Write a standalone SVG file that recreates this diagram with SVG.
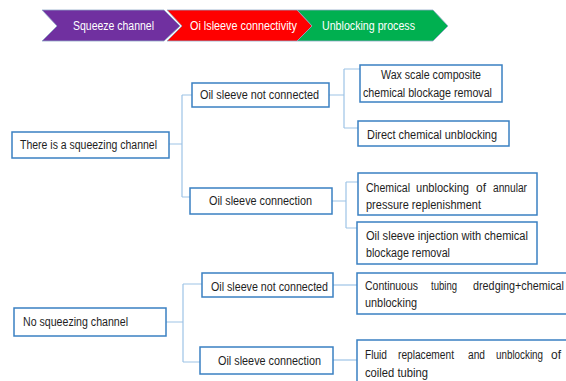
<svg xmlns="http://www.w3.org/2000/svg" width="566" height="381" viewBox="0 0 566 381">
<style>
.box{fill:#fff;stroke:#3A80C2;stroke-width:1.5}
.con{fill:none;stroke:#9DC3E6;stroke-width:1.2}
.t{font-family:"Liberation Sans",Arial,sans-serif;font-size:12px;fill:#1e1e1e}
.bt{font-family:"Liberation Sans",Arial,sans-serif;font-size:12px;fill:#fff}
.chev{stroke:#8FA8C6;stroke-width:0.8}
</style>
<rect width="566" height="381" fill="#fff"/>
<g id="banner">
  <g id="b-unblock">
    <polygon class="chev" fill="#00B050" points="297,10 433,10 448,26 433,41 297,41 312,26"/>
    <text class="bt" x="322" y="30" textLength="93" lengthAdjust="spacingAndGlyphs">Unblocking process</text>
  </g>
  <g id="b-oil">
    <polygon class="chev" fill="#FF0000" points="167,10 297,10 312,26 297,41 167,41 182,26"/>
    <text class="bt" x="190" y="30" textLength="107" lengthAdjust="spacingAndGlyphs">Oi lsleeve connectivity</text>
  </g>
  <g id="b-squeeze">
    <polygon class="chev" fill="#7030A0" points="42,10 164,10 180,26 164,41 42,41 57,26"/>
    <text class="bt" x="73" y="30" textLength="81" lengthAdjust="spacingAndGlyphs">Squeeze channel</text>
  </g>
</g>
<g id="connectors">
  <path class="con" d="M169,144 H182 M182,95 V197 M182,95 H192 M182,197 H190"/>
  <path class="con" d="M329,95 H344 M344,69 V128 M344,69 H360 M344,128 H358"/>
  <path class="con" d="M332,201 H346 M346,182 V228 M346,182 H358 M346,228 H357"/>
  <path class="con" d="M166,322 H183 M183,284 V362 M183,284 H202 M183,362 H200"/>
  <path class="con" d="M333,285 H357"/>
  <path class="con" d="M333,360 H357"/>
</g>
<g id="n-squeeze">
  <rect class="box" x="12" y="132" width="157" height="26"/>
  <text class="t" x="20" y="149" textLength="137" lengthAdjust="spacingAndGlyphs">There is a squeezing channel</text>
</g>
<g id="n-notconn1">
  <rect class="box" x="192" y="83" width="137" height="24"/>
  <text class="t" x="200" y="99" textLength="119" lengthAdjust="spacingAndGlyphs">Oil sleeve not connected</text>
</g>
<g id="n-conn1">
  <rect class="box" x="190" y="188" width="142" height="26"/>
  <text class="t" x="209" y="205" textLength="103" lengthAdjust="spacingAndGlyphs">Oil sleeve connection</text>
</g>
<g id="n-wax">
  <rect class="box" x="360" y="65" width="142" height="37"/>
  <text class="t" x="381" y="79" textLength="100" lengthAdjust="spacingAndGlyphs">Wax scale composite</text>
  <text class="t" x="363" y="97" textLength="129" lengthAdjust="spacingAndGlyphs">chemical blockage removal</text>
</g>
<g id="n-direct">
  <rect class="box" x="358" y="121" width="151" height="25"/>
  <text class="t" x="367" y="139" textLength="130" lengthAdjust="spacingAndGlyphs">Direct chemical unblocking</text>
</g>
<g id="n-annular">
  <rect class="box" x="358" y="173" width="179" height="42"/>
  <text class="t" y="192"><tspan x="366" textLength="44" lengthAdjust="spacingAndGlyphs">Chemical</tspan><tspan x="416" textLength="53" lengthAdjust="spacingAndGlyphs">unblocking</tspan><tspan x="476" textLength="10" lengthAdjust="spacingAndGlyphs">of</tspan><tspan x="493" textLength="34" lengthAdjust="spacingAndGlyphs">annular</tspan></text>
  <text class="t" x="366" y="209" textLength="115" lengthAdjust="spacingAndGlyphs">pressure replenishment</text>
</g>
<g id="n-injection">
  <rect class="box" x="357" y="222" width="180" height="42"/>
  <text class="t" x="366" y="240" textLength="162" lengthAdjust="spacingAndGlyphs">Oil sleeve injection with chemical</text>
  <text class="t" x="366" y="257" textLength="84" lengthAdjust="spacingAndGlyphs">blockage removal</text>
</g>
<g id="n-nosqueeze">
  <rect class="box" x="14" y="308" width="152" height="28"/>
  <text class="t" x="23" y="326" textLength="105" lengthAdjust="spacingAndGlyphs">No squeezing channel</text>
</g>
<g id="n-notconn2">
  <rect class="box" x="202" y="273" width="131" height="24"/>
  <text class="t" x="211" y="291" textLength="117" lengthAdjust="spacingAndGlyphs">Oil sleeve not connected</text>
</g>
<g id="n-conn2">
  <rect class="box" x="200" y="347" width="133" height="27"/>
  <text class="t" x="218" y="365" textLength="103" lengthAdjust="spacingAndGlyphs">Oil sleeve connection</text>
</g>
<g id="n-continuous">
  <rect class="box" x="357" y="273" width="230" height="41"/>
  <text class="t" y="290"><tspan x="365" textLength="53" lengthAdjust="spacingAndGlyphs">Continuous</tspan><tspan x="431" textLength="26" lengthAdjust="spacingAndGlyphs">tubing</tspan><tspan x="473" textLength="91" lengthAdjust="spacingAndGlyphs">dredging+chemical</tspan></text>
  <text class="t" x="365" y="307" textLength="52" lengthAdjust="spacingAndGlyphs">unblocking</text>
</g>
<g id="n-fluid">
  <rect class="box" x="357" y="340" width="230" height="55"/>
  <text class="t" y="359"><tspan x="365" textLength="22" lengthAdjust="spacingAndGlyphs">Fluid</tspan><tspan x="398" textLength="56" lengthAdjust="spacingAndGlyphs">replacement</tspan><tspan x="468" textLength="17" lengthAdjust="spacingAndGlyphs">and</tspan><tspan x="496" textLength="47" lengthAdjust="spacingAndGlyphs">unblocking</tspan><tspan x="551" textLength="10" lengthAdjust="spacingAndGlyphs">of</tspan></text>
  <text class="t" x="365" y="377" textLength="63" lengthAdjust="spacingAndGlyphs">coiled tubing</text>
</g>
</svg>
